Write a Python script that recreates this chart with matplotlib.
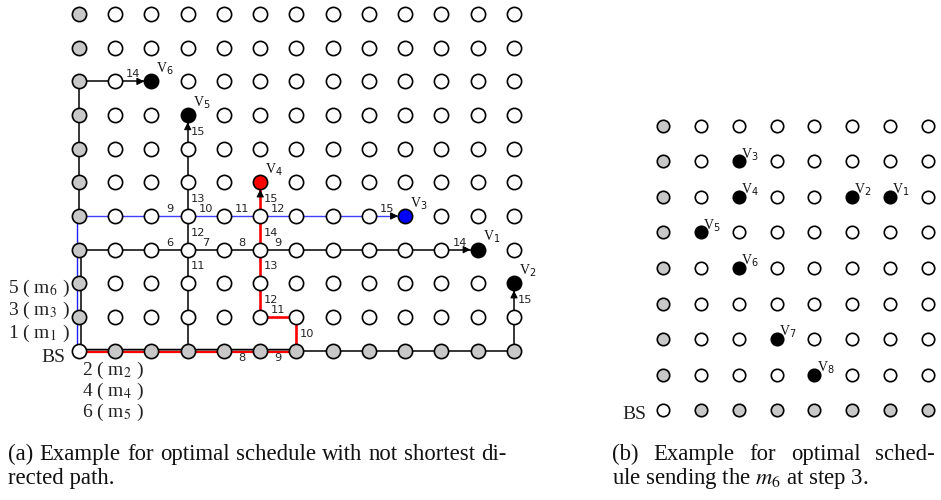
import matplotlib
matplotlib.use("Agg")
import matplotlib.pyplot as plt

plt.rcParams["font.family"] = ["Liberation Serif", "DejaVu Serif"]
plt.rcParams["mathtext.fontset"] = "stix"

# ---------------- panel (a) data ----------------
A_COLS, A_ROWS = 13, 11
a_targets = {            # name: (column, row, fill)
    "1": (11, 3, "black"),
    "2": (12, 2, "black"),
    "3": (9, 4, "#0000ff"),
    "4": (5, 5, "#ff0000"),
    "5": (3, 7, "black"),
    "6": (2, 8, "black"),
}
# routes as grid corner points
route_v6 = [(0, 4), (0, 8), (2, 8)]
route_v6_low = [(0, 0), (0, 3)]
route_v5 = [(3, 0), (3, 7)]
route_v3 = [(0, 0), (0, 4), (9, 4)]
route_v1 = [(0, 3), (11, 3)]
route_v4 = [(0, 0), (6, 0), (6, 1), (5, 1), (5, 5)]
route_v2 = [(0, 0), (6, 0), (12, 0), (12, 2)]

# step numbers on edges: (from, to, step, side)
steps = [
    ((1, 8), (2, 8), 14, "above"),
    ((3, 2), (3, 3), 11, "right"), ((3, 3), (3, 4), 12, "right"),
    ((3, 4), (3, 5), 13, "right"), ((3, 6), (3, 7), 15, "right"),
    ((2, 4), (3, 4), 9, "above"), ((3, 4), (4, 4), 10, "above"),
    ((4, 4), (5, 4), 11, "above"), ((5, 4), (6, 4), 12, "above"),
    ((8, 4), (9, 4), 15, "above"),
    ((2, 3), (3, 3), 6, "above"), ((3, 3), (4, 3), 7, "above"),
    ((4, 3), (5, 3), 8, "above"), ((5, 3), (6, 3), 9, "above"),
    ((10, 3), (11, 3), 14, "above"),
    ((4, 0), (5, 0), 8, "below"), ((5, 0), (6, 0), 9, "below"),
    ((6, 0), (6, 1), 10, "right"), ((5, 1), (6, 1), 11, "above"),
    ((5, 1), (5, 2), 12, "right"), ((5, 2), (5, 3), 13, "right"),
    ((5, 3), (5, 4), 14, "right"), ((5, 4), (5, 5), 15, "right"),
    ((12, 1), (12, 2), 15, "right"),
]
# arrow heads: (from, to)
arrows = [((1, 8), (2, 8)), ((3, 6), (3, 7)), ((8, 4), (9, 4)),
          ((10, 3), (11, 3)), ((5, 4), (5, 5)), ((12, 1), (12, 2))]

left_labels = ["5 ( m$_6$ )", "3 ( m$_3$ )", "1 ( m$_1$ )"]
bottom_labels = ["2 ( m$_2$ )", "4 ( m$_4$ )", "6 ( m$_5$ )"]

# ---------------- panel (b) data ----------------
B_COLS, B_ROWS = 8, 9
b_targets = {
    "1": (6, 6), "2": (5, 6), "3": (2, 7), "4": (2, 6),
    "5": (1, 5), "6": (2, 4), "7": (3, 2), "8": (4, 1),
}

caption_a = ["(a) Example for optimal schedule with not shortest di-",
             "rected path."]
caption_b = ["(b) Example for optimal sched-",
             "ule sending the $m_6$ at step 3."]

GRAY = "#c8c8c8"
W, H = 941, 500

fig = plt.figure(figsize=(W / 100, H / 100), dpi=100)
ax_a = fig.add_axes([0, 0, 1, 1])
ax_b = fig.add_axes([0, 0, 1, 1])
for ax in (ax_a, ax_b):
    ax.set_axis_off()
    ax.patch.set_alpha(0)
ax_a.set_xlim(-2.179, 23.779)
ax_a.set_ylim(-4.44, 10.419)
ax_b.set_xlim(-17.512, 7.343)
ax_b.set_ylim(-2.535, 11.549)


def draw_grid(ax, ncols, nrows, targets, size, lw):
    taken = [(t[0], t[1]) for t in targets.values()]
    white, gray = [], []
    for i in range(ncols):
        for j in range(nrows):
            if (i, j) in taken:
                continue
            if (i == 0) != (j == 0):
                gray.append((i, j))
            else:
                white.append((i, j))
    for pts, fc in ((white, "white"), (gray, GRAY)):
        ax.scatter([p[0] for p in pts], [p[1] for p in pts], s=size,
                   facecolor=fc, edgecolor="black", linewidths=lw, zorder=5)


def draw_route(ax, pts, color, lw, dx=0.0, dy=0.0):
    ax.plot([p[0] + dx for p in pts], [p[1] + dy for p in pts],
            color=color, lw=lw, zorder=2, solid_capstyle="butt")


# ---- panel (a) ----
px_x = 1 / 36.25   # one pixel in data units
px_y = 1 / 33.65
draw_route(ax_a, route_v6, "black", 1.1)
draw_route(ax_a, route_v6_low, "black", 1.1, dx=1.6 * px_x)
draw_route(ax_a, route_v1, "black", 1.1)
draw_route(ax_a, route_v5, "black", 1.1)
draw_route(ax_a, route_v2[:2], "#888888", 1.6, dy=0.8 * px_y)
draw_route(ax_a, route_v2[:2], "black", 1.0, dy=1.6 * px_y)
draw_route(ax_a, route_v2[1:], "black", 1.1)
draw_route(ax_a, route_v3[:2], "#2020ff", 1.0, dx=-1.6 * px_x)
draw_route(ax_a, route_v3[1:], "#4040ff", 1.0)
draw_route(ax_a, route_v4[:2], "#ff0000", 1.6, dy=-1.5 * px_y)
draw_route(ax_a, route_v4[1:], "#ff0000", 1.9)

for (x0, y0), (x1, y1) in arrows:
    dxn, dyn = (x1 - x0), (y1 - y0)
    ax_a.annotate("", xy=(x1, y1), xytext=(x1 - 0.3 * dxn, y1 - 0.3 * dyn),
                  arrowprops=dict(arrowstyle="-|>", color="black", lw=0.8,
                                  mutation_scale=11, shrinkA=0, shrinkB=5.2),
                  zorder=4)

draw_grid(ax_a, A_COLS, A_ROWS, a_targets, 105, 1.2)
for name, (i, j, fc) in a_targets.items():
    ax_a.scatter([i], [j], s=105, facecolor=fc, edgecolor="black",
                 linewidths=1.2, zorder=6)
    ax_a.annotate("V$_{%s}$" % name, (i, j), xytext=(3.5, 3), textcoords="offset points",
                  ha="left", va="bottom", fontsize=10, color="#111111",
                  math_fontfamily="dejavusans", zorder=7)

for (x0, y0), (x1, y1), step, side in steps:
    mx, my = (x0 + x1) / 2, (y0 + y1) / 2
    if side == "above":
        off, ha, va = (0, 1.5), "center", "bottom"
    elif side == "below":
        off, ha, va = (0, -1.5), "center", "top"
    else:
        off, ha, va = (2.5, 0), "left", "center"
    ax_a.annotate(str(step), (mx, my), xytext=off, textcoords="offset points",
                  ha=ha, va=va, fontsize=8.2, color="#222222",
                  family="DejaVu Sans", zorder=7)

for k, lab in enumerate(left_labels):
    ax_a.text(-0.25, 1.86 - 0.67 * k, lab, ha="right", va="center", fontsize=14,
              color="#222222")
ax_a.text(-0.38, -0.22, "BS", ha="right", va="center", fontsize=14, color="#222222")
for k, lab in enumerate(bottom_labels):
    ax_a.text(0.08, -0.58 - 0.63 * k, lab, ha="left", va="center", fontsize=14,
              color="#222222")

# ---- panel (b) ----
draw_grid(ax_b, B_COLS, B_ROWS, b_targets, 80, 1.2)
for name, (i, j) in b_targets.items():
    ax_b.scatter([i], [j], s=80, facecolor="black", edgecolor="black",
                 linewidths=1.2, zorder=6)
    ax_b.annotate("V$_{%s}$" % name, (i, j), xytext=(1.5, -1), textcoords="offset points",
                  ha="left", va="bottom", fontsize=10, color="#111111",
                  math_fontfamily="dejavusans", zorder=7)
ax_b.text(-0.43, -0.12, "BS", ha="right", va="center", fontsize=14, color="#222222")

# ---- captions (first line justified) ----
CAP_SIZE = 16.4
renderer = fig.canvas.get_renderer()


def justified(line, x0, x1, y):
    words = line.split()
    objs = [fig.text(0, 1 - y / H, w, ha="left", va="baseline", fontsize=CAP_SIZE,
                     color="#111111") for w in words]
    widths = [o.get_window_extent(renderer).width for o in objs]
    gap = (x1 - x0 - sum(widths)) / (len(words) - 1)
    x = x0
    for o, w in zip(objs, widths):
        o.set_x(x / W)
        x += w + gap


def plain(line, x0, y):
    fig.text(x0 / W, 1 - y / H, line, ha="left", va="baseline", fontsize=CAP_SIZE,
             color="#111111")


justified(caption_a[0], 8, 507, 460)
plain(caption_a[1], 8, 484)
justified(caption_b[0], 612, 935, 460)
plain(caption_b[1], 612, 484)

fig.savefig("out.png", dpi=100)
